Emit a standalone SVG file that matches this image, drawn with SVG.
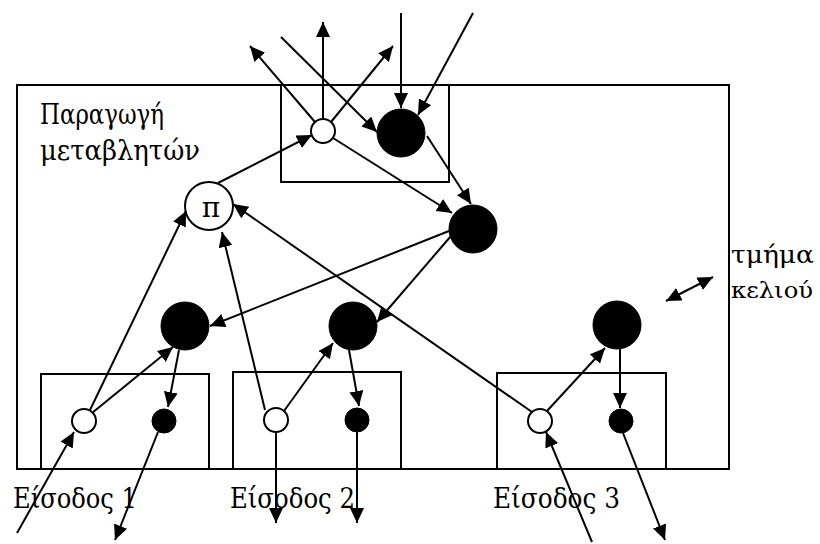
<svg xmlns="http://www.w3.org/2000/svg" width="820" height="544" viewBox="0 0 820 544">
<defs>
<marker id="ah" markerUnits="userSpaceOnUse" markerWidth="16" markerHeight="16" refX="15" refY="7" orient="auto">
<path d="M0,0 L15,7 L0,14 z" fill="#000"/>
</marker>
<marker id="ahs" markerUnits="userSpaceOnUse" markerWidth="16" markerHeight="16" refX="15" refY="7" orient="auto-start-reverse">
<path d="M0,0 L15,7 L0,14 z" fill="#000"/>
</marker>
<style>
.box{fill:none;stroke:#000;stroke-width:2}
.o{fill:#fff;stroke:#000;stroke-width:2}
.b{fill:#000;stroke:#000;stroke-width:1}
.c line{stroke:#000;stroke-width:2;marker-end:url(#ah)}
</style>
</defs>
<rect width="820" height="544" fill="#fff"/>
<g font-family="DejaVu Serif, Liberation Serif, serif" font-size="27" fill="#000">
<g id="cell">
<rect class="box" x="17" y="85" width="712" height="384"/>
<text x="40" y="124" textLength="124" lengthAdjust="spacingAndGlyphs">Παραγωγή</text>
<text x="40" y="160" textLength="160" lengthAdjust="spacingAndGlyphs">μεταβλητών</text>
</g>
<g id="topbox"><rect class="box" x="281" y="85" width="168" height="97"/></g>
<g id="box1"><rect class="box" x="41" y="374" width="168" height="95"/></g>
<g id="box2"><rect class="box" x="233" y="372" width="168" height="97"/></g>
<g id="box3"><rect class="box" x="497" y="373" width="169" height="96"/></g>
<g id="t_open"><circle class="o" cx="323" cy="131" r="12"/></g>
<g id="t_black"><circle class="b" cx="401" cy="133" r="24"/></g>
<g id="mr"><circle class="b" cx="473" cy="229" r="24"/></g>
<g id="pi"><circle class="o" cx="209" cy="206" r="24"/><text x="211" y="217" text-anchor="middle" font-size="28">π</text></g>
<g id="l"><circle class="b" cx="185" cy="326" r="24"/></g>
<g id="m"><circle class="b" cx="353" cy="326" r="24"/></g>
<g id="r"><circle class="b" cx="617" cy="325" r="24"/></g>
<g id="b1o"><circle class="o" cx="84" cy="421" r="12"/></g>
<g id="b1b"><circle class="b" cx="164" cy="421" r="12"/></g>
<g id="b2o"><circle class="o" cx="276" cy="420" r="12"/></g>
<g id="b2b"><circle class="b" cx="357" cy="420" r="12"/></g>
<g id="b3o"><circle class="o" cx="540" cy="421" r="12"/></g>
<g id="b3b"><circle class="b" cx="621" cy="421" r="12"/></g>
<g id="connectors" class="c">
<line x1="323" y1="119" x2="323" y2="22"/>
<line x1="315" y1="122" x2="250" y2="46"/>
<line x1="331" y1="122" x2="393" y2="46"/>
<line x1="281" y1="37" x2="377" y2="132"/>
<line x1="401" y1="13" x2="401" y2="108"/>
<line x1="473" y1="13" x2="418" y2="115"/>
<line x1="218" y1="183" x2="312" y2="135"/>
<line x1="333" y1="138" x2="452" y2="213"/>
<line x1="427" y1="136" x2="471" y2="204"/>
<line x1="449" y1="231" x2="210" y2="326"/>
<line x1="451" y1="236" x2="377" y2="322"/>
<line x1="90" y1="410" x2="186" y2="211"/>
<line x1="92" y1="413" x2="173" y2="347"/>
<line x1="179" y1="350" x2="168" y2="407"/>
<line x1="17" y1="533" x2="74" y2="432"/>
<line x1="158" y1="432" x2="115" y2="540"/>
<line x1="265" y1="410" x2="222" y2="232"/>
<line x1="284" y1="411" x2="333" y2="343"/>
<line x1="349" y1="350" x2="359" y2="406"/>
<line x1="276" y1="432" x2="276" y2="523"/>
<line x1="357" y1="432" x2="357" y2="523"/>
<line x1="532" y1="412" x2="233" y2="204"/>
<line x1="547" y1="411" x2="605" y2="348"/>
<line x1="620" y1="349" x2="620" y2="408"/>
<line x1="592" y1="542" x2="546" y2="432"/>
<line x1="623" y1="433" x2="665" y2="540"/>
<line x1="666" y1="301" x2="713" y2="277" style="marker-start:url(#ahs)"/>
</g>
<g id="labels">
<text x="13" y="508" textLength="124" lengthAdjust="spacingAndGlyphs">Είσοδος 1</text>
<text x="230" y="508" textLength="125" lengthAdjust="spacingAndGlyphs">Είσοδος 2</text>
<text x="493" y="508" textLength="127" lengthAdjust="spacingAndGlyphs">Είσοδος 3</text>
<text x="731" y="263" font-size="24" textLength="83" lengthAdjust="spacingAndGlyphs">τμήμα</text>
<text x="731" y="298" font-size="23" textLength="82" lengthAdjust="spacingAndGlyphs">κελιού</text>
</g>
</g>
</svg>
